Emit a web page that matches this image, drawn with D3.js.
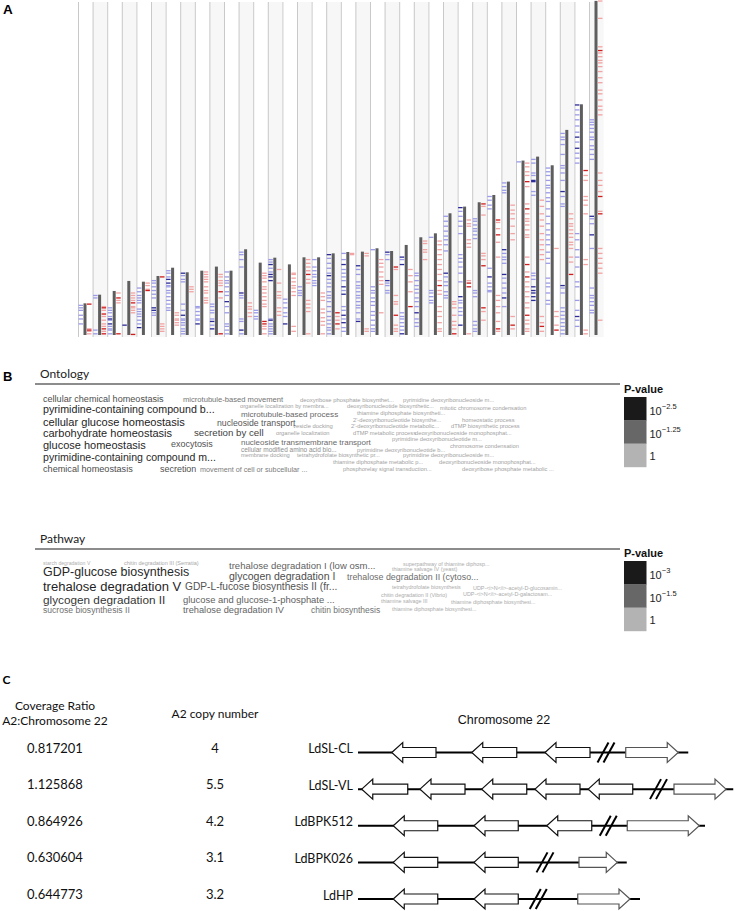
<!DOCTYPE html>
<html>
<head>
<meta charset="utf-8">
<script src="https://cdn.jsdelivr.net/npm/d3@7"></script>
<style>
  body { margin: 0; background: #fff; }
  svg { display: block; }
</style>
</head>
<body>
<svg id="fig" width="736" height="911"></svg>
<script>
// ---------- Panel A: chromosome lengths (Mb) and feature positions (Mb) ----------
const chromosomes = d3.range(1, 37).map(String);
const chrLength = [0.256, 0.326, 0.356, 0.437, 0.431, 0.477, 0.544, 0.507, 0.520, 0.553,
  0.520, 0.693, 0.585, 0.625, 0.571, 0.628, 0.628, 0.660, 0.671, 0.674,
  0.701, 0.679, 0.728, 0.790, 0.822, 0.984, 1.038, 1.073, 1.132, 1.240,
  1.410, 1.442, 1.372, 1.658, 1.865, 2.701];

const blueLight = [
  [0.24, 0.22, 0.20, 0.16, 0.13, 0.09],
  [0.32, 0.30, 0.04, 0.01],
  [0.22, 0.20, 0.18, 0.15, 0.12, 0.07, 0.05, 0.04, 0.01],
  [],
  [0.38, 0.35, 0.32, 0.30, 0.28, 0.26, 0.21, 0.19, 0.17, 0.15, 0.12, 0.09],
  [0.44, 0.42, 0.39, 0.36, 0.33, 0.30, 0.18, 0.16],
  [0.52, 0.50, 0.47, 0.40, 0.39, 0.36, 0.34, 0.31, 0.28, 0.25, 0.22, 0.20],
  [0.48, 0.45, 0.43, 0.25, 0.20, 0.13, 0.12, 0.10, 0.08, 0.05, 0.03, 0.01],
  [0.23, 0.22, 0.19, 0.16, 0.13, 0.12],
  [0.25, 0.23, 0.20, 0.18, 0.13, 0.08],
  [0.51, 0.47, 0.44, 0.42, 0.39, 0.35, 0.32, 0.23, 0.18, 0.09, 0.07, 0.04, 0.01],
  [0.67, 0.65, 0.61, 0.55, 0.32, 0.30, 0.13, 0.11, 0.01],
  [0.20, 0.18, 0.15, 0.13],
  [0.61, 0.59, 0.54, 0.51, 0.13, 0.09, 0.07, 0.05, 0.03, 0.01],
  [0.29, 0.26, 0.22, 0.18, 0.15],
  [0.39, 0.36, 0.34, 0.32],
  [0.61, 0.55, 0.52, 0.49, 0.47, 0.44, 0.42, 0.40],
  [0.62, 0.58, 0.54, 0.50, 0.45, 0.42, 0.39, 0.35, 0.32, 0.30, 0.27, 0.23, 0.19, 0.15, 0.12, 0.09, 0.06, 0.04, 0.01],
  [0.66, 0.61, 0.53, 0.50, 0.47, 0.44, 0.36, 0.23, 0.20, 0.13, 0.06, 0.03],
  [0.53, 0.49, 0.43, 0.40, 0.38, 0.35, 0.32, 0.30, 0.27, 0.24, 0.22, 0.18, 0.13],
  [0.69, 0.39, 0.36, 0.34, 0.30, 0.27, 0.24, 0.19, 0.16, 0.12, 0.08, 0.05, 0.03],
  [0.65, 0.61, 0.42, 0.40, 0.36, 0.34],
  [0.61, 0.18, 0.15, 0.13, 0.10, 0.07, 0.04],
  [0.50, 0.48, 0.44, 0.40, 0.37, 0.34, 0.30, 0.27, 0.23, 0.13, 0.10, 0.07],
  [0.79, 0.36, 0.34, 0.31, 0.28, 0.26],
  [0.96, 0.92, 0.88, 0.84, 0.80, 0.77, 0.73, 0.68, 0.47, 0.43, 0.40, 0.35, 0.32, 0.30],
  [1.00, 0.96, 0.92, 0.88, 0.82, 0.65, 0.62, 0.59, 0.55, 0.50, 0.43, 0.28, 0.26, 0.22, 0.19, 0.16],
  [0.94, 0.92, 0.89, 0.86, 0.84, 0.81, 0.78, 0.36, 0.34, 0.31, 0.11, 0.08, 0.05, 0.03],
  [1.12, 1.09, 1.05, 1.02, 0.54, 0.42, 0.39, 0.36, 0.35],
  [1.23, 1.20, 1.17, 1.15, 0.66, 0.63, 0.61, 0.58, 0.46, 0.42, 0.38, 0.34, 0.23],
  [1.40],
  [1.42, 1.39, 1.31, 1.29, 1.16, 1.13, 0.50, 0.48, 0.45],
  [1.35, 1.32, 1.29, 1.25, 1.21, 1.19, 1.15, 1.11, 1.08, 1.02, 0.96, 0.90, 0.85, 0.81, 0.77, 0.73, 0.67, 0.62, 0.58, 0.46, 0.42, 0.39, 0.34, 0.28, 0.25],
  [1.63, 1.60, 1.58, 1.54, 1.46, 1.37, 1.35, 1.31, 1.25, 1.12, 1.06, 1.04, 0.38, 0.34, 0.22, 0.19, 0.16, 0.13, 0.10, 0.07, 0.04, 0.01],
  [1.82, 1.78, 1.74, 1.69, 1.64, 1.56, 1.47, 1.43, 1.39, 0.82, 0.77, 0.69, 0.63, 0.55, 0.43, 0.39, 0.28, 0.20, 0.12, 0.07],
  [1.74, 1.72, 1.70, 1.67, 1.64, 1.60, 1.58, 1.53, 1.50, 1.46, 1.42, 0.94, 0.90, 0.70, 0.38, 0.32, 0.30, 0.27, 0.24, 0.20, 0.18]
];

const blueDark = [
  [], [], [0.13, 0.09], [0.08], [0.06], [0.22, 0.20], [0.45, 0.42], [0.50, 0.16], [0.09], [0.11, 0.05],
  [0.27], [0.34, 0.04], [], [0.57, 0.49, 0.47, 0.44, 0.12], [0.09], [], [], [0.65, 0.48], [0.57, 0.39, 0.33, 0.16, 0.10], [0.56, 0.11],
  [], [0.67, 0.44], [0.63, 0.57, 0.01], [0.18], [], [0.50], [1.03, 0.31, 0.08], [], [0.47], [0.69, 0.49, 0.30],
  [], [1.25, 1.24, 0.39, 0.36, 0.34, 0.31, 0.28], [], [1.16, 0.40], [1.86, 1.60, 1.51, 0.15], [0.96, 0.81]
];

const redLight = [
  [0.05, 0.03, 0.01],
  [0.23, 0.20, 0.15, 0.12, 0.09, 0.07, 0.03],
  [0.34, 0.28, 0.26],
  [0.34, 0.32, 0.30, 0.28, 0.23, 0.22, 0.20, 0.18],
  [0.42, 0.40, 0.37],
  [0.09, 0.07, 0.05, 0.03],
  [0.18, 0.16, 0.13, 0.12, 0.10, 0.08],
  [0.39, 0.37, 0.35],
  [0.51, 0.49, 0.47, 0.45, 0.43, 0.39, 0.36, 0.34, 0.30, 0.28, 0.26],
  [0.49, 0.47, 0.44, 0.42, 0.40, 0.30],
  [],
  [0.26, 0.23, 0.21, 0.18, 0.15],
  [0.50, 0.48, 0.46, 0.43, 0.39, 0.37, 0.34, 0.31, 0.28, 0.25, 0.23, 0.07, 0.05, 0.01],
  [0.53, 0.42, 0.35, 0.32, 0.30, 0.22, 0.19, 0.16],
  [0.50, 0.49, 0.46, 0.43, 0.40, 0.38, 0.35, 0.32, 0.07, 0.03],
  [0.61, 0.58, 0.55, 0.52, 0.45, 0.42, 0.28, 0.25, 0.22, 0.19, 0.01],
  [0.34, 0.31, 0.28, 0.21, 0.18, 0.14, 0.11, 0.08, 0.01],
  [0.15, 0.12, 0.05],
  [0.66, 0.65],
  [0.66, 0.64, 0.05, 0.03],
  [0.61, 0.58, 0.55, 0.51, 0.47, 0.44, 0.41, 0.18],
  [0.53, 0.32, 0.27, 0.25, 0.08, 0.05, 0.03],
  [0.53, 0.48, 0.43, 0.35],
  [0.76, 0.74, 0.69, 0.67, 0.61],
  [0.76, 0.73, 0.69, 0.65, 0.61, 0.57, 0.53, 0.49, 0.44, 0.36, 0.33, 0.23, 0.19, 0.15, 0.10, 0.05, 0.03],
  [0.27, 0.25, 0.22, 0.16, 0.11, 0.08, 0.05],
  [0.93, 0.90, 0.88, 0.77, 0.74, 0.71, 0.44, 0.01],
  [1.04, 0.97, 0.66, 0.64, 0.61, 0.19, 0.12],
  [0.91, 0.86, 0.75, 0.63, 0.32, 0.28, 0.23, 0.18, 0.11, 0.03],
  [1.05, 1.01, 0.98, 0.94, 0.88, 0.82, 0.77, 0.15, 0.05],
  [1.39, 1.36, 1.32, 1.29, 1.20, 1.06, 0.98, 0.94, 0.92, 0.89, 0.85, 0.81, 0.79, 0.63, 0.51, 0.43, 0.39, 0.35, 0.31, 0.26, 0.22, 0.12, 0.09, 0.05, 0.03],
  [1.09, 1.04, 0.98, 0.93, 0.88, 0.82, 0.77, 0.73, 0.69, 0.65, 0.61, 0.15, 0.10, 0.03],
  [0.70, 0.19, 0.15, 0.08],
  [0.98, 0.94, 0.90, 0.88, 0.85, 0.82, 0.79, 0.75, 0.73, 0.70, 0.63, 0.59],
  [1.29, 1.25, 1.12, 1.09, 1.05, 0.98, 0.61, 0.57, 0.04, 0.01],
  [2.70, 2.56, 2.33, 2.28, 2.25, 2.22, 2.20, 2.17, 2.13, 2.08, 2.04, 1.98, 1.95, 1.90, 1.85, 1.82, 1.78, 1.31, 1.25, 1.21, 1.16, 1.00, 0.70, 0.66, 0.62, 0.58, 0.54, 0.50, 0.12]
];

const redDark = [
  [0.25, 0.04], [0.22, 0.17, 0.05, 0.01], [0.30, 0.01], [0.26, 0.005], [0.36], [0.47], [], [], [], [0.35, 0.01],
  [], [], [0.11, 0.09], [], [], [0.49], [], [0.18, 0.09], [], [],
  [], [0.55, 0.16], [0.23], [], [0.40], [0.01], [0.42, 0.39], [1.06, 0.56, 0.22], [0.93, 0.81, 0.05], [0.08],
  [1.24, 1.02, 0.57, 0.47, 0.16], [0.07], [0.04], [0.49], [1.33], [2.30, 1.12, 0.98]
];

// ---------- Panel B: enriched terms and -log10(P) ----------
const ontologyTerms = [
  "cellular chemical homeostasis", "microtubule-based movement", "deoxyribose phosphate biosynthet...",
  "pyrimidine deoxyribonucleoside m...", "pyrimidine-containing compound b...", "organelle localization by membra...",
  "deoxyribonucleotide biosynthetic...", "mitotic chromosome condensation", "microtubule-based process",
  "thiamine diphosphate biosyntheti...", "cellular glucose homeostasis", "nucleoside transport",
  "vesicle docking", "2'-deoxyribonucleotide biosynthe...", "homeostatic process",
  "2'-deoxyribonucleotide metabolic...", "dTMP biosynthetic process", "carbohydrate homeostasis",
  "secretion by cell", "organelle localization", "dTMP metabolic process",
  "deoxyribonucleoside monophosphat...", "glucose homeostasis", "exocytosis",
  "nucleoside transmembrane transport", "pyrimidine deoxyribonucleotide m...", "chromosome condensation",
  "cellular modified amino acid bio...", "pyrimidine deoxyribonucleotide b...", "membrane docking",
  "tetrahydrofolate biosynthetic pr...", "pyrimidine deoxyribonucleoside m...", "pyrimidine-containing compound m...",
  "thiamine diphosphate metabolic p...", "deoxyribonucleoside monophosphat...", "chemical homeostasis",
  "secretion", "movement of cell or subcellular ...", "phosphorelay signal transduction...",
  "deoxyribose phosphate metabolic ..."
];
const ontologyScore = [
  1.65, 1.05, 0.35, 0.3, 2.3, 0.3, 0.28, 0.28, 1.25, 0.3, 2.46, 1.5, 0.35, 0.3, 0.3, 0.3, 0.3, 2.42,
  1.9, 0.3, 0.3, 0.3, 2.42, 1.6, 1.2, 0.3, 0.3, 0.6, 0.3, 0.3, 0.3, 0.3, 2.25, 0.3, 0.3, 1.67,
  1.6, 0.9, 0.3, 0.3
];

const pathwayTerms = [
  "starch degradation V", "chitin degradation III (Serratia)", "GDP-glucose biosynthesis",
  "trehalose degradation I (low osm...", "superpathway of thiamine diphosp...", "thiamine salvage IV (yeast)",
  "glycogen degradation I", "trehalose degradation II (cytoso...", "trehalose degradation V",
  "GDP-L-fucose biosynthesis II (fr...", "tetrahydrofolate biosynthesis", "UDP-<i>N</i>-acetyl-D-glucosamin...",
  "UDP-<i>N</i>-acetyl-D-galactosam...", "chitin degradation II (Vibrio)", "glycogen degradation II",
  "glucose and glucose-1-phosphate ...", "thiamine salvage III", "thiamine diphosphate biosynthesi...",
  "sucrose biosynthesis II", "trehalose degradation IV", "chitin biosynthesis",
  "thiamine diphosphate biosynthesi..."
];
const pathwayScore = [
  0.05, 0.2, 2.7, 1.65, 0.15, 0.15, 2.0, 1.4, 2.9, 1.88, 0.15, 0.15, 0.15, 0.15, 2.45, 1.6,
  0.15, 0.15, 1.3, 1.55, 1.28, 0.15
];

// word-cloud placement (left x, baseline y)
const ontologyPlace = [
  [43, 402], [183, 402], [300, 402], [403, 402], [43, 412.5], [240, 408], [347, 408], [440, 410],
  [241, 417], [357, 415], [43, 426], [217, 426], [293, 428], [353, 422], [462, 422], [351, 428],
  [451, 428], [43, 437], [194, 436], [276, 435], [353, 435], [415, 435], [43, 449], [171, 447],
  [241, 445], [392, 441], [450, 448], [241, 452], [357, 452], [241, 457], [297, 457], [403, 457],
  [43, 461], [333, 464], [439, 464], [43, 472], [160, 472], [200, 472], [343, 471], [462, 471]
];
const pathwayPlace = [
  [43, 564.5], [124, 564.5], [43, 576], [229, 568.5], [403, 566], [392, 571], [229, 579.5], [347, 580],
  [43, 590.5], [185, 590], [392, 589], [473, 590], [463, 596], [381, 597], [43, 604], [183, 603.3],
  [381, 603], [451, 604], [43, 613], [183, 613], [311, 613], [392, 611]
];

const ontologyLegend = [2.5, 1.25, 0];
const pathwayLegend = [3, 1.5, 0];

// ---------- Panel C: A2 copy number ----------
const strains = ["LdSL-CL", "LdSL-VL", "LdBPK512", "LdBPK026", "LdHP"];
const coverageRatio = [0.817201, 1.125868, 0.864926, 0.630604, 0.644773];
const copyNumber = [4, 5.5, 4.2, 3.1, 3.2];
// gene positions in kb along the locus
const locusEnd = [13.21, 15.01, 13.88, 10.75, 11.28];
const reverseGenes = [
  [[1.35, 3.12], [4.55, 6.35], [7.48, 9.28]],
  [[0.15, 1.99], [2.48, 4.28], [4.95, 6.75], [7.08, 8.88], [9.21, 10.99]],
  [[1.41, 3.19], [4.64, 6.41], [7.55, 9.35]],
  [[1.41, 3.19], [4.64, 6.41]],
  [[1.41, 3.19], [4.64, 6.41]]
];
const forwardGene = [[10.71, 12.81], [12.64, 14.72], [10.77, 13.65], [8.84, 10.37], [8.79, 10.88]];
const breakPoint = [9.92, 12.02, 10.01, 7.48, 7.21];

// =====================================================================
const svg = d3.select('#fig');
const sans = 'Liberation Sans, Arial, sans-serif';
const soft = 'Lato, Open Sans, sans-serif';

// ---- panel letters
svg.append('text').attr('x', 3).attr('y', 14).text('A')
  .attr('font-family', sans).attr('font-weight', 'bold').attr('font-size', 13.5);
svg.append('text').attr('x', 3).attr('y', 381).text('B')
  .attr('font-family', sans).attr('font-weight', 'bold').attr('font-size', 13);
svg.append('text').attr('x', 2.5).attr('y', 683.5).text('C')
  .attr('font-family', soft).attr('font-weight', 'bold').attr('font-size', 12);

// ---- Panel A
const x = d3.scaleBand().domain(chromosomes).range([78, 603.6]);
const y = d3.scaleLinear().domain([0, 2.7]).range([335, 1]);
const gA = svg.append('g');

gA.selectAll('rect.col')
  .data(chromosomes)
  .enter()
  .append('rect')
  .attr('class', 'col')
  .attr('x', d => x(d))
  .attr('y', 2)
  .attr('width', x.bandwidth())
  .attr('height', 335)
  .attr('fill', (d, i) => i % 2 ? '#f7f7f7' : '#ffffff');

gA.selectAll('line.sep')
  .data(chromosomes)
  .enter()
  .append('line')
  .attr('class', 'sep')
  .attr('x1', d => x(d) + 0.5)
  .attr('x2', d => x(d) + 0.5)
  .attr('y1', 2)
  .attr('y2', 337)
  .attr('stroke', '#c9c9c9')
  .attr('stroke-width', 1);

const barX = d => x(d) + 5.5;
const barW = 3;

function drawMarks(lists, side, color) {
  lists.forEach((list, i) => {
    const chr = chromosomes[i];
    gA.selectAll(null)
      .data(list)
      .enter()
      .append('rect')
      .attr('x', side < 0 ? barX(chr) - 5 : barX(chr) + barW + 0.5)
      .attr('y', d => y(d) - 0.6)
      .attr('width', 4.5)
      .attr('height', 1.3)
      .attr('fill', color);
  });
}
drawMarks(blueLight, -1, '#9b9be8');
drawMarks(blueDark, -1, '#2b2b99');
drawMarks(redLight, 1, '#f2a3a3');
drawMarks(redDark, 1, '#d01c1c');

gA.selectAll('rect.chr')
  .data(chromosomes)
  .enter()
  .append('rect')
  .attr('class', 'chr')
  .attr('x', d => barX(d))
  .attr('y', (d, i) => y(chrLength[i]))
  .attr('width', barW)
  .attr('height', (d, i) => y(0) - y(chrLength[i]))
  .attr('fill', '#5e5e5e');

// ---- Panel B
function wordCloud(title, titleY, terms, scores, place, legendVals, maxScore, legendTop) {
  const size = d3.scaleLinear().domain([0, maxScore]).range([5, maxScore === 3 ? 13.3 : 11.2]);
  const shade = d3.scaleLinear().domain([0, maxScore]).range(['#b3b3b3', '#1a1a1a']);
  const g = svg.append('g');

  g.append('text').attr('x', 40).attr('y', titleY).text(title)
    .attr('font-family', soft).attr('font-size', 12).attr('fill', '#222');
  g.append('line')
    .attr('x1', 35).attr('x2', 620)
    .attr('y1', titleY + 6).attr('y2', titleY + 6)
    .attr('stroke', '#666').attr('stroke-width', 1.6);

  g.selectAll('text.term')
    .data(terms)
    .enter()
    .append('text')
    .attr('class', 'term')
    .attr('x', (d, i) => place[i][0])
    .attr('y', (d, i) => place[i][1])
    .attr('font-family', sans)
    .attr('font-size', (d, i) => size(scores[i]))
    .attr('fill', (d, i) => shade(scores[i]))
    .text(d => d);

  // legend
  const lx = 624, bw = 22.5, bh = 23.3;
  g.append('text').attr('x', lx).attr('y', legendTop - 4.5).text('P-value')
    .attr('font-family', sans).attr('font-weight', 'bold').attr('font-size', 11).attr('fill', '#111');
  const ly = d3.scaleBand().domain(legendVals).range([legendTop, legendTop + bh * 3]);
  g.selectAll('rect.key')
    .data(legendVals)
    .enter()
    .append('rect')
    .attr('x', lx)
    .attr('y', d => ly(d))
    .attr('width', bw)
    .attr('height', ly.bandwidth() + 0.3)
    .attr('fill', d => shade(d));
  legendVals.forEach(v => {
    const t = g.append('text')
      .attr('x', lx + bw + 3)
      .attr('y', ly(v) + ly.bandwidth() / 2 + (v === 0 ? 5 : 6))
      .attr('font-family', sans).attr('font-size', 11).attr('fill', '#222');
    if (v === 0) {
      t.text('1');
    } else {
      t.append('tspan').text('10');
      t.append('tspan').attr('dy', -5.5).attr('font-size', 7.5).text('\u2212' + v);
    }
  });
}
wordCloud('Ontology', 378, ontologyTerms, ontologyScore, ontologyPlace, ontologyLegend, 2.5, 397);
wordCloud('Pathway', 543, pathwayTerms, pathwayScore, pathwayPlace, pathwayLegend, 3, 561);

// ---- Panel C
const gC = svg.append('g');
const row = d3.scalePoint().domain(strains).range([752.5, 899]);
const kb = d3.scaleLinear().domain([0, 15]).range([358, 733]);

const header = [
  ['Coverage Ratio', 55, 710], ['A2:Chromosome 22', 55, 725], ['A2 copy number', 215, 718]
];
header.forEach(([t, hx, hy]) => {
  gC.append('text').attr('x', hx).attr('y', hy).text(t)
    .attr('text-anchor', 'middle').attr('font-family', soft).attr('font-size', 12).attr('fill', '#111');
});
gC.append('text').attr('x', 504).attr('y', 724).text('Chromosome 22')
  .attr('text-anchor', 'middle').attr('font-family', sans).attr('font-size', 12.5).attr('fill', '#111');

const fmt = d3.format('.6f');
strains.forEach((s, i) => {
  const ry = row(s);
  gC.append('text').attr('x', 55).attr('y', ry).text(fmt(coverageRatio[i]))
    .attr('text-anchor', 'middle').attr('font-family', soft).attr('font-size', 13).attr('fill', '#111');
  gC.append('text').attr('x', 215).attr('y', ry).text(copyNumber[i])
    .attr('text-anchor', 'middle').attr('font-family', soft).attr('font-size', 13).attr('fill', '#111');
  gC.append('text').attr('x', 353).attr('y', ry + 0.5).text(s)
    .attr('text-anchor', 'end').attr('font-family', soft).attr('font-size', 12.5).attr('fill', '#111');

  gC.append('line')
    .attr('x1', kb(0)).attr('x2', kb(locusEnd[i]))
    .attr('y1', ry).attr('y2', ry)
    .attr('stroke', '#000').attr('stroke-width', 2);

  const head = 11, bodyH = 5, headH = 10;
  const arrow = (tip, tail, dir) => {
    const hb = tip + dir * head;
    return `M${tip},${ry} L${hb},${ry - headH} L${hb},${ry - bodyH} L${tail},${ry - bodyH}` +
      ` L${tail},${ry + bodyH} L${hb},${ry + bodyH} L${hb},${ry + headH} Z`;
  };
  gC.selectAll(null)
    .data(reverseGenes[i])
    .enter()
    .append('path')
    .attr('d', g => arrow(kb(g[0]), kb(g[1]), 1))
    .attr('fill', '#fff').attr('stroke', '#111').attr('stroke-width', 1.2);
  gC.append('path')
    .attr('d', arrow(kb(forwardGene[i][1]), kb(forwardGene[i][0]), -1))
    .attr('fill', '#fff').attr('stroke', '#555').attr('stroke-width', 1.2);

  const bx = kb(breakPoint[i]);
  [-3, 3].forEach(off => {
    gC.append('line')
      .attr('x1', bx + off - 5.5).attr('y1', ry + 10)
      .attr('x2', bx + off + 5.5).attr('y2', ry - 10)
      .attr('stroke', '#000').attr('stroke-width', 2);
  });
});
</script>
</body>
</html>
